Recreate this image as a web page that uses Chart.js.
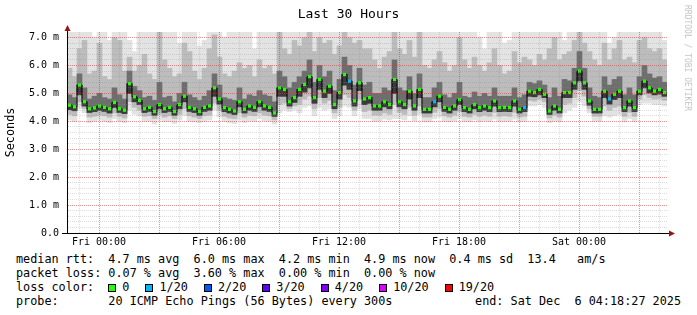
<!DOCTYPE html>
<html>
<head>
<meta charset="utf-8">
<title>Last 30 Hours</title>
<script src="https://cdn.jsdelivr.net/npm/chart.js@4.4.1/dist/chart.umd.min.js"></script>
<style>
	body { margin: 0; background: #fff; }
	#graph { position: relative; width: 697px; height: 315px; font-family: "DejaVu Sans Mono", monospace; color: #000; overflow: hidden; }
	#graph canvas { position: absolute; left: 0; top: 0; }
	.title { position: absolute; top: 6px; left: 0; width: 697px; text-align: center; font-size: 13px; line-height: 16px; }
	.credit { position: absolute; top: 5px; left: 682px; writing-mode: vertical-rl; font-size: 8px; line-height: 10px; color: #c4c4c4; }
	.legend { position: absolute; left: 16px; top: 252px; font-size: 11.8px; line-height: 14px; }
	.legend div { height: 14px; white-space: pre; }
	.box { display: inline-block; width: 6px; height: 6px; border: 1px solid #000; margin-right: 6px; vertical-align: -1px; }
	.item { margin-right: 16px; }
	.end { position: absolute; right: 16px; top: 294px; font-size: 11.8px; line-height: 14px; white-space: pre; }
</style>
</head>
<body>
<div id="graph">
	<canvas id="chartSmoke" width="697" height="250"></canvas>
	<div class="title">Last 30 Hours</div>
	<div class="credit">RRDTOOL / TOBI OETIKER</div>
	<div class="legend"><div>median rtt:  4.7 ms avg  6.0 ms max  4.2 ms min  4.9 ms now  0.4 ms sd  13.4   am/s</div><div>packet loss: 0.07 % avg  3.60 % max  0.00 % min  0.00 % now</div><div id="loss-row">loss color:  </div><div>probe:       20 ICMP Echo Pings (56 Bytes) every 300s</div></div>
	<div class="end">end: Sat Dec  6 04:18:27 2025</div>
</div>
<script>
// time axis in minutes relative to Fri 00:00, one smoke column every 15 minutes
const startMin = -96;
const endMin = 1704;
const stepMin = 15;

const labelMinutes = [0, 360, 720, 1080, 1440];
const labelTexts = ["Fri 00:00", "Fri 06:00", "Fri 12:00", "Fri 18:00", "Sat 00:00"];

// median rtt in ms
const median = [
	4.58, 4.52, 5.30, 4.70, 4.45, 4.48, 4.55, 4.50, 4.45, 4.68,
	4.45, 4.40, 5.35, 4.88, 4.75, 4.45, 4.50, 4.35, 4.60, 4.45,
	4.50, 4.35, 4.60, 4.90, 4.50, 4.45, 4.35, 4.50, 4.55, 5.20,
	4.80, 4.49, 4.43, 4.37, 4.70, 4.43, 4.55, 4.50, 4.70, 4.55,
	4.50, 4.30, 5.20, 5.14, 4.70, 4.85, 5.14, 5.32, 5.60, 4.85,
	5.50, 5.08, 5.26, 4.60, 5.03, 5.68, 5.44, 4.73, 5.38, 4.80,
	4.85, 4.55, 4.55, 4.70, 4.60, 5.50, 4.70, 4.60, 5.08, 4.55,
	5.14, 4.43, 4.43, 4.70, 4.90, 4.50, 4.43, 4.55, 4.78, 4.49,
	4.43, 4.60, 4.49, 4.55, 4.49, 4.73, 4.49, 4.50, 4.49, 4.73,
	4.43, 4.49, 5.08, 5.03, 5.14, 4.97, 4.37, 4.55, 4.43, 5.03,
	5.03, 5.38, 5.80, 5.38, 4.73, 4.43, 4.43, 5.08, 4.80, 4.97,
	5.08, 4.49, 4.73, 4.49, 5.08, 5.44, 5.20, 5.08, 5.14, 5.03,
];

// smoke: spread of the 20 pings per column (ms)
const smokeLo = [
	4.05, 4.00, 4.45, 4.30, 3.95, 4.00, 4.05, 4.00, 3.95, 4.10,
	4.00, 3.95, 4.40, 4.25, 4.20, 4.00, 4.00, 3.90, 4.05, 3.98,
	4.00, 3.92, 4.05, 4.20, 4.00, 3.98, 3.95, 4.00, 4.05, 4.40,
	4.15, 4.00, 3.95, 3.92, 4.05, 3.95, 4.02, 4.00, 4.10, 4.02,
	4.00, 3.90, 4.30, 4.40, 4.35, 4.40, 4.30, 4.50, 4.55, 4.20,
	4.50, 4.40, 4.45, 4.10, 4.20, 4.55, 4.50, 4.20, 4.45, 4.10,
	4.10, 4.00, 4.02, 4.08, 4.05, 4.10, 4.10, 4.05, 4.20, 4.02,
	4.25, 3.98, 3.98, 4.10, 4.15, 4.00, 3.98, 4.02, 4.10, 4.00,
	3.98, 4.05, 4.00, 4.02, 4.00, 4.08, 4.00, 4.00, 4.00, 4.08,
	3.98, 4.00, 4.55, 4.55, 4.60, 4.50, 3.95, 4.00, 3.98, 4.30,
	4.40, 4.50, 4.70, 4.55, 4.30, 4.00, 4.00, 4.20, 4.15, 4.20,
	4.25, 3.98, 4.10, 4.00, 4.60, 4.65, 4.65, 4.60, 4.60, 4.55,
];
const smokeMidLo = [
	4.25, 4.20, 4.70, 4.45, 4.15, 4.18, 4.22, 4.20, 4.15, 4.30,
	4.18, 4.12, 4.70, 4.50, 4.40, 4.18, 4.20, 4.10, 4.25, 4.15,
	4.20, 4.10, 4.25, 4.45, 4.20, 4.15, 4.10, 4.20, 4.22, 4.65,
	4.40, 4.18, 4.12, 4.10, 4.30, 4.15, 4.22, 4.20, 4.30, 4.22,
	4.20, 4.05, 4.60, 4.65, 4.45, 4.55, 4.60, 4.80, 4.90, 4.45,
	4.85, 4.65, 4.75, 4.30, 4.50, 4.95, 4.85, 4.40, 4.80, 4.35,
	4.40, 4.22, 4.22, 4.30, 4.25, 4.60, 4.32, 4.25, 4.50, 4.22,
	4.55, 4.15, 4.15, 4.32, 4.45, 4.20, 4.15, 4.22, 4.35, 4.18,
	4.15, 4.25, 4.18, 4.22, 4.18, 4.32, 4.18, 4.20, 4.18, 4.32,
	4.15, 4.18, 4.75, 4.72, 4.80, 4.70, 4.12, 4.22, 4.15, 4.60,
	4.65, 4.85, 5.10, 4.90, 4.45, 4.18, 4.18, 4.55, 4.40, 4.50,
	4.55, 4.18, 4.32, 4.18, 4.80, 4.95, 4.85, 4.80, 4.82, 4.75,
];
const smokeDarkLo = [
	4.42, 4.38, 4.95, 4.55, 4.32, 4.35, 4.40, 4.36, 4.30, 4.50,
	4.32, 4.28, 5.00, 4.70, 4.60, 4.32, 4.36, 4.22, 4.45, 4.32,
	4.36, 4.22, 4.45, 4.70, 4.36, 4.32, 4.22, 4.36, 4.40, 4.90,
	4.62, 4.35, 4.30, 4.25, 4.52, 4.30, 4.40, 4.36, 4.52, 4.40,
	4.36, 4.18, 4.90, 4.90, 4.55, 4.68, 4.90, 5.05, 5.20, 4.65,
	5.15, 4.85, 5.00, 4.45, 4.80, 5.30, 5.15, 4.55, 5.10, 4.60,
	4.65, 4.40, 4.40, 4.52, 4.45, 5.00, 4.52, 4.45, 4.80, 4.40,
	4.85, 4.30, 4.30, 4.52, 4.70, 4.36, 4.30, 4.40, 4.60, 4.35,
	4.30, 4.45, 4.35, 4.40, 4.35, 4.55, 4.35, 4.36, 4.35, 4.55,
	4.30, 4.35, 4.90, 4.88, 4.95, 4.85, 4.25, 4.40, 4.30, 4.85,
	4.85, 5.15, 5.45, 5.15, 4.58, 4.30, 4.30, 4.85, 4.62, 4.78,
	4.85, 4.35, 4.55, 4.35, 4.95, 5.20, 5.02, 4.95, 4.98, 4.90,
];
const smokeDarkHi = [
	4.95, 4.85, 5.70, 5.20, 4.80, 4.90, 5.00, 4.85, 4.80, 5.20,
	4.95, 4.80, 5.80, 5.25, 5.10, 4.85, 4.90, 4.75, 5.40, 4.85,
	4.90, 4.70, 5.00, 5.40, 4.95, 4.85, 4.75, 4.90, 5.10, 5.70,
	5.30, 4.85, 4.80, 4.75, 5.20, 4.80, 4.95, 4.90, 5.10, 4.95,
	4.90, 4.70, 5.80, 5.60, 5.20, 5.40, 5.60, 5.80, 6.20, 5.40,
	6.00, 5.60, 5.80, 5.10, 5.50, 6.30, 6.00, 5.30, 5.90, 5.30,
	5.40, 5.00, 5.00, 5.20, 5.10, 6.20, 5.20, 5.10, 5.60, 5.00,
	5.70, 4.85, 4.85, 5.20, 5.40, 4.95, 4.85, 5.00, 5.40, 4.90,
	4.85, 5.05, 4.90, 5.00, 4.90, 5.20, 4.90, 4.90, 4.90, 5.20,
	4.85, 4.95, 5.40, 5.35, 5.45, 5.30, 4.85, 5.20, 4.90, 5.50,
	5.45, 5.90, 6.50, 5.90, 5.20, 4.90, 4.85, 5.60, 5.30, 5.50,
	5.60, 4.95, 5.20, 4.95, 5.60, 6.00, 5.70, 5.55, 5.60, 5.40,
];
const smokeMidHi = [
	5.9, 5.6, 6.6, 6.9, 5.7, 5.8, 6.8, 5.6, 5.5, 7.0,
	6.9, 5.8, 6.3, 5.8, 6.0, 6.4, 5.7, 5.5, 7.2, 6.2,
	5.9, 5.6, 5.7, 6.8, 6.5, 5.8, 5.5, 5.9, 6.6, 7.1,
	6.3, 5.7, 5.6, 5.8, 6.1, 5.9, 6.0, 5.6, 6.2, 5.9,
	6.0, 5.7, 7.2, 6.6, 6.4, 6.9, 6.7, 7.0, 7.2, 6.5,
	7.0, 6.8, 6.9, 6.4, 6.7, 7.2, 7.0, 6.8, 6.9, 6.6,
	6.6, 6.2, 5.9, 6.3, 6.5, 7.2, 6.6, 6.4, 6.9, 6.3,
	7.2, 6.0, 5.9, 6.2, 6.5, 6.1, 5.8, 6.0, 7.0, 6.2,
	5.9, 6.3, 6.0, 5.8, 6.1, 6.6, 6.0, 5.7, 5.8, 6.5,
	6.1, 6.3, 6.2, 6.0, 6.4, 6.2, 6.6, 7.0, 6.2, 6.4,
	6.5, 6.9, 7.2, 6.8, 6.5, 6.2, 6.0, 6.8, 6.2, 6.6,
	6.9, 6.2, 6.3, 6.1, 6.9, 7.0, 6.6, 6.5, 6.6, 6.2,
];
const smokeHi = [
	7.2, 7.2, 7.2, 7.2, 7.2, 7.0, 7.2, 7.2, 6.9, 7.2,
	7.2, 7.2, 6.9, 6.5, 7.2, 7.2, 7.2, 7.2, 7.2, 7.2,
	7.2, 7.2, 6.8, 7.2, 7.2, 7.2, 6.7, 6.9, 7.2, 7.2,
	7.2, 7.0, 7.2, 7.2, 7.2, 7.2, 7.2, 6.6, 7.2, 7.2,
	7.2, 7.2, 7.2, 7.2, 7.2, 7.2, 7.2, 7.2, 7.2, 7.2,
	7.2, 7.2, 7.2, 7.2, 7.2, 7.2, 7.2, 7.2, 7.2, 7.2,
	7.2, 7.2, 7.2, 7.2, 7.2, 7.2, 7.2, 7.2, 7.2, 7.2,
	7.2, 7.2, 7.2, 7.2, 7.2, 7.2, 7.2, 7.2, 7.2, 7.2,
	7.2, 7.2, 7.0, 6.6, 7.2, 7.2, 7.2, 6.8, 6.9, 7.2,
	7.2, 7.2, 7.2, 7.2, 7.2, 7.2, 7.2, 7.2, 7.2, 6.9,
	7.2, 7.2, 7.2, 7.2, 7.2, 7.2, 7.2, 7.2, 6.8, 7.0,
	7.2, 7.2, 7.2, 7.2, 7.2, 7.2, 7.2, 7.2, 7.2, 6.9,
];

// columns with lost pings (out of 20)
const lossColumns = [56, 73, 91, 108];
const lossCounts = [1, 1, 1, 1];

// loss colour legend
const lossThresholds = [0, 1, 2, 3, 4, 10, 19];
const lossLabels = ["0", "1/20", "2/20", "3/20", "4/20", "10/20", "19/20"];
const lossColors = ["#26ff00", "#00b8ff", "#0059ff", "#5e00ff", "#7e00ff", "#dd00ff", "#ff0000"];

const MAJOR_GRID = "rgba(220, 50, 50, 0.55)";
const MINOR_GRID = "rgba(140, 140, 140, 0.3)";

function colX(i) {
	return startMin + i * stepMin + stepMin / 2;
}

function lossColorAt(i) {
	const k = lossColumns.indexOf(i);
	const count = k >= 0 ? lossCounts[k] : 0;
	let level = 0;
	lossThresholds.forEach((t, j) => {
		if (count >= t) level = j;
	});
	return lossColors[level];
}

function band(lo, hi) {
	return lo.map((v, i) => ({ x: colX(i), y: [v, hi[i]] }));
}

// legend row with coloured boxes
const lossRow = document.getElementById("loss-row");
lossLabels.forEach((lbl, i) => {
	lossRow.innerHTML += `<span class="box" style="background:${lossColors[i]}"></span><span class="item">${lbl}</span>`;
});

// axis lines with arrow heads (rrdtool style)
const axisArrows = {
	id: "axisArrows",
	afterDraw(chart) {
		const { ctx, chartArea: a } = chart;
		const x0 = Math.round(a.left) + 0.5;
		const y0 = Math.round(a.bottom) + 0.5;
		ctx.save();
		ctx.strokeStyle = "#000";
		ctx.lineWidth = 1;
		ctx.beginPath();
		ctx.moveTo(x0, a.top);
		ctx.lineTo(x0, a.top - 2);
		ctx.moveTo(a.left - 5, y0);
		ctx.lineTo(a.left, y0);
		ctx.moveTo(a.right, y0);
		ctx.lineTo(a.right + 3, y0);
		ctx.stroke();
		ctx.fillStyle = "#a01010";
		ctx.beginPath();
		ctx.moveTo(x0, a.top - 7);
		ctx.lineTo(x0 - 3, a.top - 1);
		ctx.lineTo(x0 + 3, a.top - 1);
		ctx.closePath();
		ctx.fill();
		ctx.beginPath();
		ctx.moveTo(a.right + 8, y0);
		ctx.lineTo(a.right + 2, y0 - 3);
		ctx.lineTo(a.right + 2, y0 + 3);
		ctx.closePath();
		ctx.fill();
		ctx.restore();
	},
};

const tickFont = { family: "DejaVu Sans Mono", size: 10 };

new Chart(document.getElementById("chartSmoke"), {
	type: "bar",
	data: {
		datasets: [
			{
				type: "line",
				label: "median",
				data: median.map((v, i) => ({ x: colX(i), y: v })),
				borderColor: "#000",
				borderWidth: 1,
				stepped: "middle",
				pointStyle: "rect",
				pointRadius: 2.3,
				pointBorderWidth: 0,
				pointBackgroundColor: (c) => lossColorAt(c.dataIndex),
				order: 0,
			},
			{ label: "core", data: band(smokeDarkLo, median), backgroundColor: "#3a3a3a", grouped: false, order: 1 },
			{ label: "dark", data: band(smokeDarkLo, smokeDarkHi), backgroundColor: "#6e6e6e", grouped: false, order: 2 },
			{ label: "mid", data: band(smokeMidLo, smokeMidHi), backgroundColor: "#bcbcbc", grouped: false, order: 3 },
			{ label: "light", data: band(smokeLo, smokeHi), backgroundColor: "#e3e3e3", grouped: false, order: 4 },
		],
	},
	options: {
		responsive: false,
		animation: false,
		layout: { padding: { top: 32, right: 30, left: 0, bottom: 0 } },
		datasets: { bar: { barPercentage: 1, categoryPercentage: 1, borderWidth: 0 } },
		plugins: { legend: { display: false }, tooltip: { enabled: false }, title: { display: false } },
		scales: {
			x: {
				type: "linear",
				min: startMin,
				max: endMin,
				offset: false,
				afterFit: (axis) => { axis.height = 17; },
				afterBuildTicks: (axis) => {
					const t = [];
					for (let m = Math.ceil(startMin / 60) * 60; m <= endMin; m += 60) t.push({ value: m });
					axis.ticks = t;
				},
				ticks: {
					autoSkip: false,
					maxRotation: 0,
					padding: 3,
					color: "#000",
					font: tickFont,
					callback: (v) => {
						const k = labelMinutes.indexOf(v);
						return k >= 0 ? labelTexts[k] : "";
					},
				},
				grid: {
					offset: false,
					drawTicks: false,
					z: 1,
					color: (c) => (((c.tick.value % 180) + 180) % 180 === 0 ? MAJOR_GRID : MINOR_GRID),
				},
				border: { display: true, color: "#000", width: 1, dash: [1, 1], dashOffset: 0, z: 2 },
			},
			y: {
				type: "linear",
				min: 0,
				max: 7.2,
				afterFit: (axis) => { axis.width = 67; },
				afterBuildTicks: (axis) => {
					const t = [];
					for (let i = 0; i <= 35; i++) t.push({ value: i / 5 });
					axis.ticks = t;
				},
				ticks: {
					autoSkip: false,
					padding: 8,
					color: "#000",
					font: tickFont,
					callback: (v) => {
						if (Math.abs(v - Math.round(v)) > 1e-6) return "";
						return v === 0 ? "0.0" : v.toFixed(1) + " m";
					},
				},
				grid: {
					drawTicks: false,
					z: 1,
					color: (c) => (Math.abs(c.tick.value - Math.round(c.tick.value)) < 1e-6 ? MAJOR_GRID : MINOR_GRID),
				},
				border: { display: true, color: "#000", width: 1, dash: [1, 1], dashOffset: 0, z: 2 },
				title: {
					display: true,
					text: "Seconds",
					color: "#000",
					font: { family: "DejaVu Sans Mono", size: 11.8 },
				},
			},
		},
	},
	plugins: [axisArrows],
});
</script>
</body>
</html>
